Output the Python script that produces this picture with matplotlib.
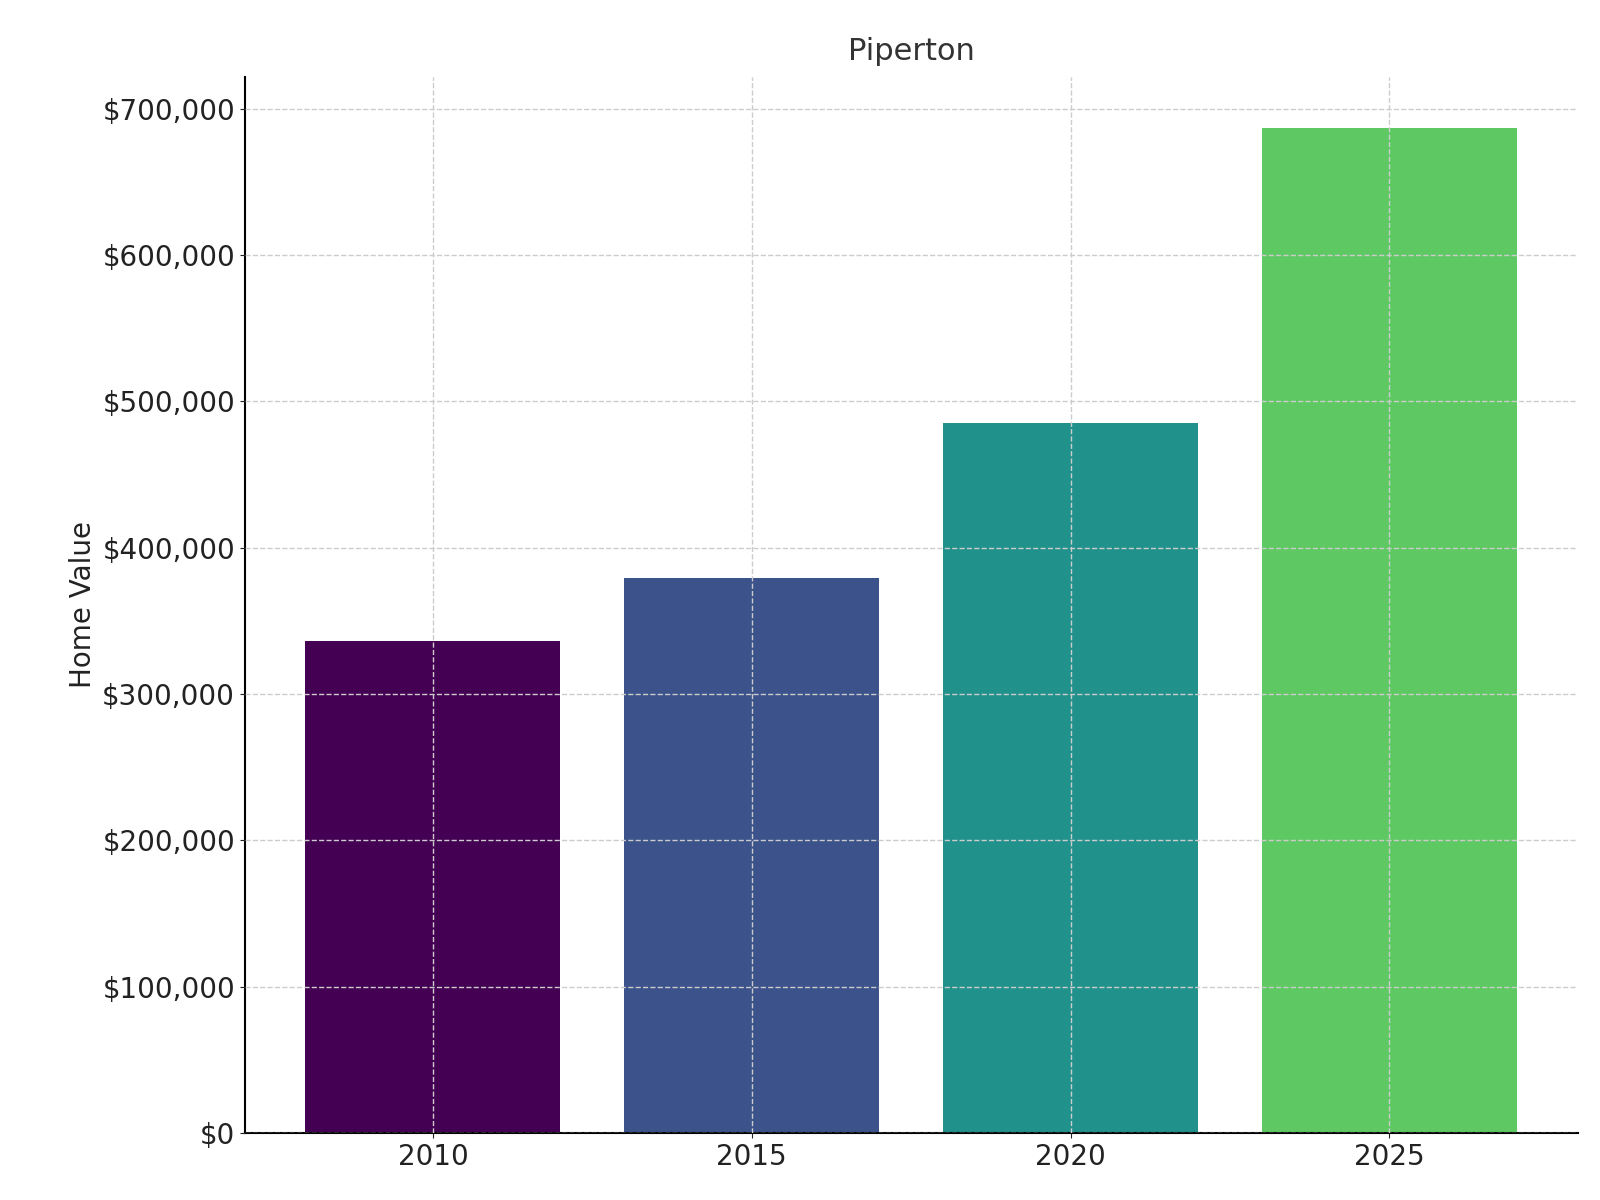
import matplotlib
matplotlib.use("Agg")
import matplotlib.pyplot as plt
from matplotlib.ticker import FuncFormatter

years = ["2010", "2015", "2020", "2025"]
values = [336000, 379000, 485000, 687000]
colors = ["#440154", "#3b528b", "#21918c", "#5ec962"]

fig, ax = plt.subplots(figsize=(16, 12), dpi=100)
fig.subplots_adjust(left=0.153, right=0.986, top=0.936, bottom=0.056)

ax.bar(years, values, color=colors, width=0.8, zorder=2)
ax.set_ylim(0, 722000)
ax.set_xlim(-0.59, 3.59)
ax.yaxis.set_major_formatter(FuncFormatter(lambda v, p: f"${v:,.0f}"))
ax.grid(True, linestyle="--", color="#cccccc", linewidth=1, zorder=3)
ax.set_axisbelow(False)
for s in ["top", "right"]:
    ax.spines[s].set_visible(False)
for s in ["left", "bottom"]:
    ax.spines[s].set_linewidth(1.5)
ax.tick_params(labelsize=20, colors="#222222")
ax.set_ylabel("Home Value", fontsize=20, color="#222222")
ax.set_title("Piperton", fontsize=22, color="#333333", pad=12)

fig.savefig("out.png")
